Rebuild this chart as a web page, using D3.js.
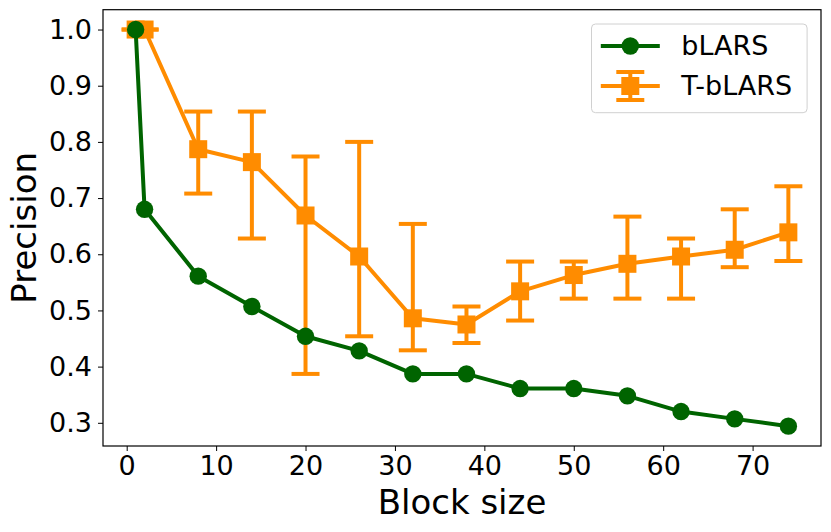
<!DOCTYPE html>
<html lang="en">
<head>
<meta charset="UTF-8">
<title>Precision vs block size</title>
<script src="https://d3js.org/d3.v7.min.js"></script>
<style>
  html, body { margin: 0; padding: 0; background: #fff; overflow: hidden; }
  svg { display: block; }
  text { font-family: "DejaVu Sans", sans-serif; fill: #000; }
</style>
</head>
<body>
<svg id="mainsvg" width="831" height="532"></svg>
<script>
// data
const blockSizes = [1, 2, 8, 14, 20, 26, 32, 38, 44, 50, 56, 62, 68, 74];
const bLARS      = [1.0, 0.68, 0.561, 0.507, 0.454, 0.428, 0.387, 0.387, 0.361, 0.361, 0.348, 0.320, 0.307, 0.294];
const tMean      = [1.0, 1.0, 0.787, 0.764, 0.669, 0.596, 0.486, 0.475, 0.534, 0.563, 0.583, 0.596, 0.608, 0.639];
const tLow       = [1.0, 1.0, 0.708, 0.628, 0.387, 0.454, 0.429, 0.442, 0.482, 0.521, 0.521, 0.521, 0.577, 0.588];
const tHigh      = [1.0, 1.0, 0.854, 0.854, 0.774, 0.800, 0.654, 0.507, 0.587, 0.587, 0.667, 0.628, 0.680, 0.721];
const xTicks = [0, 10, 20, 30, 40, 50, 60, 70];
const yTicks = [0.3, 0.4, 0.5, 0.6, 0.7, 0.8, 0.9, 1.0];
const seriesNames = ['bLARS', 'T-bLARS'];

const green = '#006400';
const orange = '#ff8c00';

const svg = d3.select('#mainsvg');
const margin = {top: 9.7, right: 10, bottom: 86, left: 103};
const innerWidth = +svg.attr('width') - margin.left - margin.right;
const innerHeight = +svg.attr('height') - margin.top - margin.bottom;

// matplotlib style 5% margins
const pad = (lo, hi) => { const m = (hi - lo) * 0.05; return [lo - m, hi + m]; };
const xExt = d3.extent(blockSizes);
const yExt = [d3.min(bLARS.concat(tLow)), d3.max(bLARS.concat(tHigh))];

const xScale = d3.scaleLinear().domain(pad(xExt[0], xExt[1])).range([0, innerWidth]);
const yScale = d3.scaleLinear().domain(pad(yExt[0], yExt[1])).range([innerHeight, 0]);

const g = svg.append('g').attr('transform', `translate(${margin.left},${margin.top})`);

// axes
const xAxis = d3.axisBottom(xScale).tickValues(xTicks).tickSize(5).tickPadding(5).tickFormat(d3.format('d'));
const yAxis = d3.axisLeft(yScale).tickValues(yTicks).tickSize(5).tickPadding(6).tickFormat(d3.format('.1f'));

const xg = g.append('g').attr('transform', `translate(0,${innerHeight})`).call(xAxis);
const yg = g.append('g').call(yAxis);
[xg, yg].forEach(a => {
  a.attr('font-size', null).attr('font-family', null);
  a.select('.domain').remove();
  a.selectAll('.tick line').attr('stroke', '#000').attr('stroke-width', 1);
  a.selectAll('.tick text').attr('font-size', 27);
});

// frame
g.append('rect')
  .attr('width', innerWidth).attr('height', innerHeight)
  .attr('fill', 'none').attr('stroke', '#000').attr('stroke-width', 1.2);

const plot = g.append('g');

// T-bLARS with error bars (drawn under bLARS)
const tData = blockSizes.map((b, i) => ({x: b, y: tMean[i], lo: tLow[i], hi: tHigh[i]}));
const cap = 14;
const eb = plot.append('g').attr('stroke', orange).attr('stroke-width', 4).attr('fill', 'none');
tData.forEach(d => {
  const cx = xScale(d.x);
  eb.append('line').attr('x1', cx).attr('x2', cx).attr('y1', yScale(d.lo)).attr('y2', yScale(d.hi));
  eb.append('line').attr('x1', cx - cap).attr('x2', cx + cap).attr('y1', yScale(d.lo)).attr('y2', yScale(d.lo));
  eb.append('line').attr('x1', cx - cap).attr('x2', cx + cap).attr('y1', yScale(d.hi)).attr('y2', yScale(d.hi));
});
plot.append('path')
  .attr('d', d3.line().x(d => xScale(d.x)).y(d => yScale(d.y))(tData))
  .attr('fill', 'none').attr('stroke', orange).attr('stroke-width', 4).attr('stroke-linejoin', 'round');
const sq = 18;
plot.selectAll('rect.sq').data(tData).join('rect').attr('class', 'sq')
  .attr('x', d => xScale(d.x) - sq / 2).attr('y', d => yScale(d.y) - sq / 2)
  .attr('width', sq).attr('height', sq).attr('fill', orange);

// bLARS
const bData = blockSizes.map((b, i) => ({x: b, y: bLARS[i]}));
plot.append('path')
  .attr('d', d3.line().x(d => xScale(d.x)).y(d => yScale(d.y))(bData))
  .attr('fill', 'none').attr('stroke', green).attr('stroke-width', 4).attr('stroke-linejoin', 'round');
plot.selectAll('circle').data(bData).join('circle')
  .attr('cx', d => xScale(d.x)).attr('cy', d => yScale(d.y)).attr('r', 8.7).attr('fill', green);

// axis labels
svg.append('text').text('Block size')
  .attr('x', margin.left + innerWidth / 2).attr('y', 514)
  .attr('text-anchor', 'middle').attr('font-size', 34);
svg.append('text').text('Precision')
  .attr('transform', `translate(36,${margin.top + innerHeight / 2}) rotate(-90)`)
  .attr('text-anchor', 'middle').attr('font-size', 34);

// legend
const lg = g.append('g').attr('transform', `translate(${innerWidth - 229.5},14.3)`);
lg.append('rect').attr('width', 215.6).attr('height', 88.7).attr('rx', 4)
  .attr('fill', '#fff').attr('fill-opacity', 0.8).attr('stroke', '#d0d0d0').attr('stroke-width', 1);
seriesNames.forEach((name, i) => {
  const ly = 22 + i * 40;
  const row = lg.append('g').attr('transform', `translate(9.3,${ly})`);
  if (i === 0) {
    row.append('line').attr('x1', 0).attr('x2', 59).attr('stroke', green).attr('stroke-width', 4);
    row.append('circle').attr('cx', 29.5).attr('r', 8.7).attr('fill', green);
  } else {
    row.append('line').attr('x1', 0).attr('x2', 59).attr('stroke', orange).attr('stroke-width', 4);
    row.append('line').attr('x1', 29.5).attr('x2', 29.5).attr('y1', -14).attr('y2', 14).attr('stroke', orange).attr('stroke-width', 4);
    row.append('line').attr('x1', 29.5 - cap).attr('x2', 29.5 + cap).attr('y1', -14).attr('y2', -14).attr('stroke', orange).attr('stroke-width', 4);
    row.append('line').attr('x1', 29.5 - cap).attr('x2', 29.5 + cap).attr('y1', 14).attr('y2', 14).attr('stroke', orange).attr('stroke-width', 4);
    row.append('rect').attr('x', 29.5 - sq / 2).attr('y', -sq / 2).attr('width', sq).attr('height', sq).attr('fill', orange);
  }
  row.append('text').text(name).attr('x', 80.5).attr('y', 0).attr('dy', '0.35em').attr('font-size', 27);
});
</script>
</body>
</html>
